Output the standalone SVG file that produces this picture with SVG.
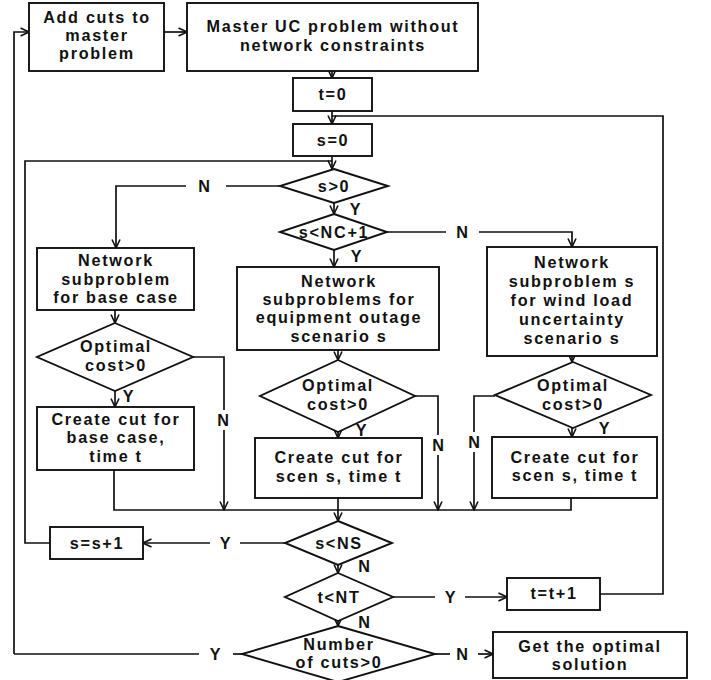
<svg xmlns="http://www.w3.org/2000/svg" width="711" height="680" viewBox="0 0 711 680">
<style>
.b{fill:#fff;stroke:#111;stroke-width:1.9}
.l{fill:none;stroke:#111;stroke-width:1.7}
.a{marker-end:url(#ar)}
text{font-family:"Liberation Sans",Arial,sans-serif;font-size:16.2px;font-weight:bold;fill:#111;text-anchor:middle;letter-spacing:1.7px}
</style>
<defs>
<marker id="ar" viewBox="0 0 10 10" refX="9.5" refY="5" markerWidth="10" markerHeight="10" markerUnits="userSpaceOnUse" orient="auto">
<path d="M1,1 L9.5,5 L1,9" fill="none" stroke="#111" stroke-width="1.6"/>
</marker>
</defs>
<rect width="711" height="680" fill="#fff"/>
<g id="connectors">
<path class="l a" d="M164,32 H187"/>
<path class="l a" d="M332,71 V78"/>
<path class="l a" d="M332,111 V124"/>
<path class="l a" d="M332,156 V169"/>
<path class="l" d="M600,594 H663 V116 H332"/>
<path class="l" d="M50,543 H25 V161 H332"/>
<path class="l a" d="M14,654 V32 H29"/>
<path class="l" d="M280,186 H226"/>
<path class="l a" d="M186,186 H116 V248"/>
<path class="l a" d="M334,203 V214"/>
<path class="l" d="M387,232 H446"/>
<path class="l a" d="M479,232 H572 V247"/>
<path class="l a" d="M334,250 V267"/>
<path class="l a" d="M115,310 V323"/>
<path class="l a" d="M115,391 V407"/>
<path class="l" d="M193,357 H224 V410"/>
<path class="l a" d="M224,430 V510"/>
<path class="l a" d="M338,350 V360"/>
<path class="l a" d="M338,432 V438"/>
<path class="l" d="M415,396 H438 V435"/>
<path class="l a" d="M438,455 V510"/>
<path class="l a" d="M572,356 V362"/>
<path class="l a" d="M572,428 V437"/>
<path class="l" d="M495,396 H474 V432"/>
<path class="l a" d="M474,452 V510"/>
<path class="l" d="M114,470 V510 H571 V498"/>
<path class="l a" d="M338,498 V521"/>
<path class="l" d="M285,543 H240"/>
<path class="l a" d="M210,543 H143"/>
<path class="l a" d="M338,565 V573"/>
<path class="l" d="M393,597 H435"/>
<path class="l a" d="M465,597 H507"/>
<path class="l a" d="M338,621 V626"/>
<path class="l" d="M242,654 H233"/>
<path class="l" d="M199,654 H14"/>
<path class="l" d="M435,654 H450"/>
<path class="l a" d="M478,654 H493"/>
</g>
<g id="labels">
<text x="205" y="192">N</text>
<text x="356" y="215">Y</text>
<text x="463" y="238">N</text>
<text x="357" y="262">Y</text>
<text x="129" y="402">Y</text>
<text x="224" y="426">N</text>
<text x="362" y="436">Y</text>
<text x="439" y="451">N</text>
<text x="475" y="448">N</text>
<text x="605" y="434">Y</text>
<text x="226" y="549">Y</text>
<text x="365" y="572">N</text>
<text x="451" y="603">Y</text>
<text x="365" y="628">N</text>
<text x="216" y="660">Y</text>
<text x="463" y="660">N</text>
</g>
<g id="add-cuts">
<rect class="b" x="29" y="3" width="135" height="68"/>
<text x="97" y="23">Add cuts to</text>
<text x="97" y="41">master</text>
<text x="97" y="59">problem</text>
</g>
<g id="master">
<rect class="b" x="187" y="3" width="291" height="68"/>
<text x="333" y="32">Master UC problem without</text>
<text x="333" y="51">network constraints</text>
</g>
<g id="t0">
<rect class="b" x="293" y="78" width="79" height="33"/>
<text x="333" y="100">t=0</text>
</g>
<g id="s0">
<rect class="b" x="293" y="124" width="79" height="32"/>
<text x="333" y="146">s=0</text>
</g>
<g id="s-gt-0">
<polygon class="b" points="334,169 388,186 334,203 280,186"/>
<text x="334" y="192">s&gt;0</text>
</g>
<g id="s-lt-nc">
<polygon class="b" points="334,214 387,232 334,250 280,232"/>
<text x="334" y="238">s&lt;NC+1</text>
</g>
<g id="net-base">
<rect class="b" x="37" y="248" width="157" height="62"/>
<text x="116" y="266">Network</text>
<text x="116" y="285">subproblem</text>
<text x="116" y="303">for base case</text>
</g>
<g id="opt-base">
<polygon class="b" points="115,323 193,357 115,391 37,357"/>
<text x="116" y="352">Optimal</text>
<text x="116" y="371">cost&gt;0</text>
</g>
<g id="cut-base">
<rect class="b" x="37" y="407" width="157" height="63"/>
<text x="116" y="425">Create cut for</text>
<text x="116" y="443">base case,</text>
<text x="116" y="462">time t</text>
</g>
<g id="net-outage">
<rect class="b" x="237" y="267" width="202" height="83"/>
<text x="339" y="287">Network</text>
<text x="339" y="305">subproblems for</text>
<text x="339" y="323">equipment outage</text>
<text x="339" y="342">scenario s</text>
</g>
<g id="opt-outage">
<polygon class="b" points="338,360 415,396 338,432 260,396"/>
<text x="338" y="391">Optimal</text>
<text x="338" y="410">cost&gt;0</text>
</g>
<g id="cut-outage">
<rect class="b" x="255" y="438" width="167" height="60"/>
<text x="339" y="463">Create cut for</text>
<text x="339" y="482">scen s, time t</text>
</g>
<g id="net-wind">
<rect class="b" x="487" y="247" width="170" height="109"/>
<text x="572" y="268">Network</text>
<text x="572" y="287">subproblem s</text>
<text x="572" y="306">for wind load</text>
<text x="572" y="325">uncertainty</text>
<text x="572" y="344">scenario s</text>
</g>
<g id="opt-wind">
<polygon class="b" points="573,362 651,395 573,428 495,395"/>
<text x="573" y="391">Optimal</text>
<text x="573" y="410">cost&gt;0</text>
</g>
<g id="cut-wind">
<rect class="b" x="492" y="437" width="165" height="61"/>
<text x="575" y="463">Create cut for</text>
<text x="575" y="481">scen s, time t</text>
</g>
<g id="s-lt-ns">
<polygon class="b" points="338,521 392,543 338,565 285,543"/>
<text x="339" y="549">s&lt;NS</text>
</g>
<g id="s-inc">
<rect class="b" x="50" y="527" width="93" height="32"/>
<text x="97" y="549">s=s+1</text>
</g>
<g id="t-lt-nt">
<polygon class="b" points="338,573 393,597 338,621 285,597"/>
<text x="339" y="603">t&lt;NT</text>
</g>
<g id="t-inc">
<rect class="b" x="507" y="578" width="93" height="32"/>
<text x="554" y="599">t=t+1</text>
</g>
<g id="num-cuts">
<polygon class="b" points="338,626 435,654 338,682 242,654"/>
<text x="339" y="650">Number</text>
<text x="339" y="668">of cuts&gt;0</text>
</g>
<g id="optimal">
<rect class="b" x="493" y="632" width="194" height="46"/>
<text x="590" y="652">Get the optimal</text>
<text x="590" y="670">solution</text>
</g>
</svg>
